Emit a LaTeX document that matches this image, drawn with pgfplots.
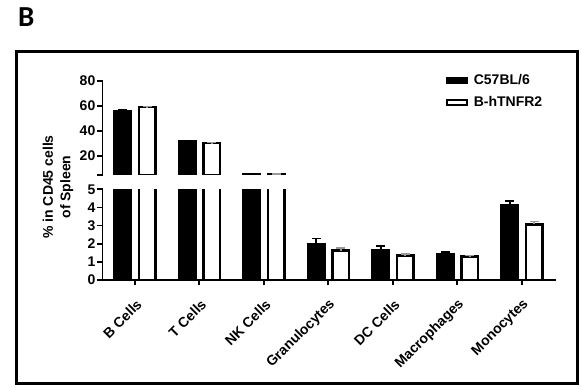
\documentclass[border=0pt]{standalone}
\usepackage{pgfplots}
\pgfplotsset{compat=1.18}
\usepackage{pgfplotstable}
\usepackage{fontspec}
\setmainfont{Liberation Sans}
\newfontfamily\carlito{Carlito}

\pgfplotstableread{
x c57 c57err htn htnerr
0 55.9 0.5 59.0 0.4
1 31.9 0.4 30.4 0.4
2 5.9 0.3 5.3 0.4
3 1.97 0.32 1.62 0.16
4 1.64 0.22 1.35 0.08
5 1.42 0.12 1.29 0.06
6 4.14 0.22 3.06 0.16
}\cells

\pgfplotsset{
  brk/.style={
    scale only axis, width=453.5pt, xmin=-0.5, xmax=6.53, anchor=south west,
    axis line style={line width=1.8pt},
    tick style={line width=1.8pt, black},
    major tick length=5.5pt, tick align=outside,
    ticklabel style={font=\fontsize{14}{14}\selectfont\bfseries},
    /pgf/number format/assume math mode=true,
    yticklabel style={inner sep=1.5pt},
  },
  blackbar/.style={ybar, bar width=16.5pt, bar shift=-12pt, fill=black, draw=black, line width=2.5pt,
    legend image code/.code={\draw[fill=black, draw=black, line width=2pt] (1pt,-2.7pt) rectangle (21.3pt,2.7pt);}},
  whitebar/.style={ybar, bar width=16.5pt, bar shift=12.5pt, fill=white, draw=black, line width=2.5pt,
    legend image code/.code={\draw[fill=white, draw=black, line width=2pt] (1pt,-2.7pt) rectangle (21.3pt,2.7pt);}},
  errb/.style={forget plot, draw=none, mark=none,
    error bars/.cd, y dir=plus, y explicit,
    error bar style={draw=#1, line width=1.8pt},
    error mark options={rotate=90, draw=#1, line width=1.8pt, mark size=4.5pt}},
}

\begin{document}
\begin{tikzpicture}[x=1pt,y=1pt]
\path[use as bounding box] (0,0) rectangle (582,390);
\draw[line width=2.5pt] (16.7,6.5) rectangle (577.5,338.3);
\node[anchor=base west, inner sep=0pt, font=\carlito\bfseries\fontsize{29}{29}\selectfont] at (18,363) {B};

% lower segment
\begin{axis}[brk, at={(102.5pt,110pt)}, height=90.7pt, ymin=0, ymax=5, ytick={0,1,2,3,4,5},
  axis x line*=bottom, axis y line*=left,
  xtick={0,1,2,3,4,5,6},
  xticklabels={B Cells,T Cells,NK Cells,Granulocytes,DC Cells,Macrophages,Monocytes},
  xticklabel style={xshift=4.5pt, yshift=-16.5pt, rotate=45, anchor=east, inner sep=0pt}]
\addplot[blackbar] table[x=x, y=c57] {\cells};
\addplot[whitebar] table[x=x, y=htn] {\cells};
\addplot[errb=black] table[x expr=\thisrow{x}-0.186, y=c57, y error=c57err] {\cells};
\addplot[errb=black!40] table[x expr=\thisrow{x}+0.194, y=htn, y error=htnerr] {\cells};
\end{axis}

% upper segment
\begin{axis}[brk, at={(102.5pt,215pt)}, height=94.3pt, ymin=5, ymax=80, ytick={20,40,60,80},
  extra y ticks={5}, extra y tick labels={},
  axis x line=none, axis y line*=left,
  legend style={at={(axis description cs:0.756,1.09)}, anchor=north west, draw=none, fill=none,
    inner sep=0pt, row sep=6.5pt, font=\fontsize{14}{14}\selectfont\bfseries,
    /tikz/every odd column/.append style={column sep=4pt}},
  legend cell align=left]
\addplot[restrict x to domain=-0.5:2.5, blackbar] table[x=x, y=c57] {\cells};
\addlegendentry{C57BL/6}
\addplot[restrict x to domain=-0.5:2.5, whitebar] table[x=x, y=htn] {\cells};
\addlegendentry{B-hTNFR2}
\addplot[restrict x to domain=-0.5:2.5, errb=black] table[x expr=\thisrow{x}-0.186, y=c57, y error=c57err] {\cells};
\addplot[restrict x to domain=-0.5:2.5, errb=black!40] table[x expr=\thisrow{x}+0.194, y=htn, y error=htnerr] {\cells};
\end{axis}

\node[rotate=90, align=center, font=\fontsize{14}{17.7}\selectfont\bfseries] at (58,203) {\% in CD45 cells\\of Spleen};
\end{tikzpicture}
\end{document}
